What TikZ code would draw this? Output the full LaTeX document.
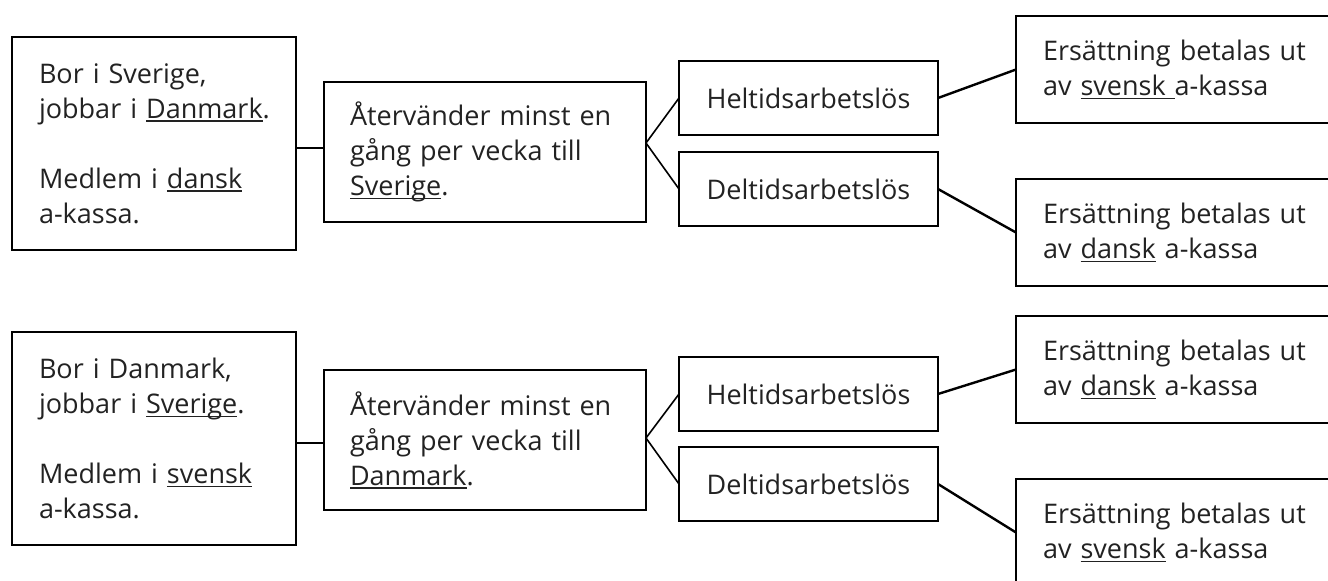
\documentclass[tikz,border=0pt]{standalone}
\usepackage{fontspec}
\setmainfont{Open Sans}
\usepackage{xcolor}
\usetikzlibrary{positioning}
\definecolor{textgray}{HTML}{222222}
\newcommand{\understruk}[1]{\leavevmode\setbox0\hbox{#1}\rlap{\rule[-3.5pt]{\wd0}{1.3pt}}\box0\relax}

\tikzset{
  box/.style={draw=black,line width=2.2pt,rectangle,anchor=north west,outer sep=0pt,
    text=textgray,font=\fontsize{27}{35}\selectfont},
  infobox/.style={box,align=left,inner xsep=27pt,text width=#1},
  statusbox/.style={box,align=center,minimum width=259pt,minimum height=74pt},
  link/.style={line width=2.4pt},
  fork/.style={line width=1.6pt}
}

\begin{document}
\begin{tikzpicture}[x=1pt,y=-1pt]
\useasboundingbox (0,0) rectangle (1328,581);
\clip (0,0) rectangle (1328,581);
% bor i Sverige
\node[infobox=230pt,minimum height=213pt] (sveBor) at (12,37)
  {Bor i Sverige,\\ \mbox{jobbar i \understruk{Danmark}.}\\[35pt] Medlem i \understruk{dansk}\\ a-kassa.};
\node[infobox=270pt,inner xsep=26pt,minimum height=140pt] (sveRetur) at (324,82)
  {Återvänder minst en\\ gång per vecka till\\ \understruk{Sverige}.};
\node[statusbox] (sveHel) at (679,61) {Heltidsarbetslös};
\node[statusbox] (sveDel) at (679,152) {Deltidsarbetslös};
\node[infobox=285pt,minimum height=107pt] (sveHelErs) at (1016,16)
  {Ersättning betalas ut\\ av \understruk{svensk }a-kassa};
\node[infobox=285pt,minimum height=107pt] (sveDelErs) at (1016,179)
  {Ersättning betalas ut\\ av \understruk{dansk} a-kassa};
\coordinate (sveFork) at (646,143);
\draw[link] ([yshift=-4.5pt]sveBor.east) -- ([yshift=-4.5pt]sveBor.east -| sveRetur.west);
\draw[fork] (sveHel.west) -- (sveFork) -- (sveDel.west);
\draw[link] (sveHel.east) -- (sveHelErs.west);
\draw[link] (sveDel.east) -- (sveDelErs.west);
% bor i Danmark
\node[infobox=230pt,minimum height=213pt] (danBor) at (12,332)
  {Bor i Danmark,\\ \mbox{jobbar i \understruk{Sverige}.}\\[35pt] Medlem i \understruk{svensk}\\ a-kassa.};
\node[infobox=270pt,inner xsep=26pt,minimum height=140pt] (danRetur) at (324,370)
  {Återvänder minst en\\ gång per vecka till\\ \understruk{Danmark}.};
\node[statusbox] (danHel) at (679,357) {Heltidsarbetslös};
\node[statusbox] (danDel) at (679,447) {Deltidsarbetslös};
\node[infobox=285pt,minimum height=107pt] (danHelErs) at (1016,316)
  {Ersättning betalas ut\\ av \understruk{dansk} a-kassa};
\node[infobox=285pt,minimum height=107pt] (danDelErs) at (1016,479)
  {Ersättning betalas ut\\ av \understruk{svensk} a-kassa};
\coordinate (danFork) at (646,438);
\draw[link] ([yshift=-4.5pt]danBor.east) -- ([yshift=-4.5pt]danBor.east -| danRetur.west);
\draw[fork] (danHel.west) -- (danFork) -- (danDel.west);
\draw[link] (danHel.east) -- (danHelErs.west);
\draw[link] (danDel.east) -- (danDelErs.west);
\end{tikzpicture}
\end{document}
